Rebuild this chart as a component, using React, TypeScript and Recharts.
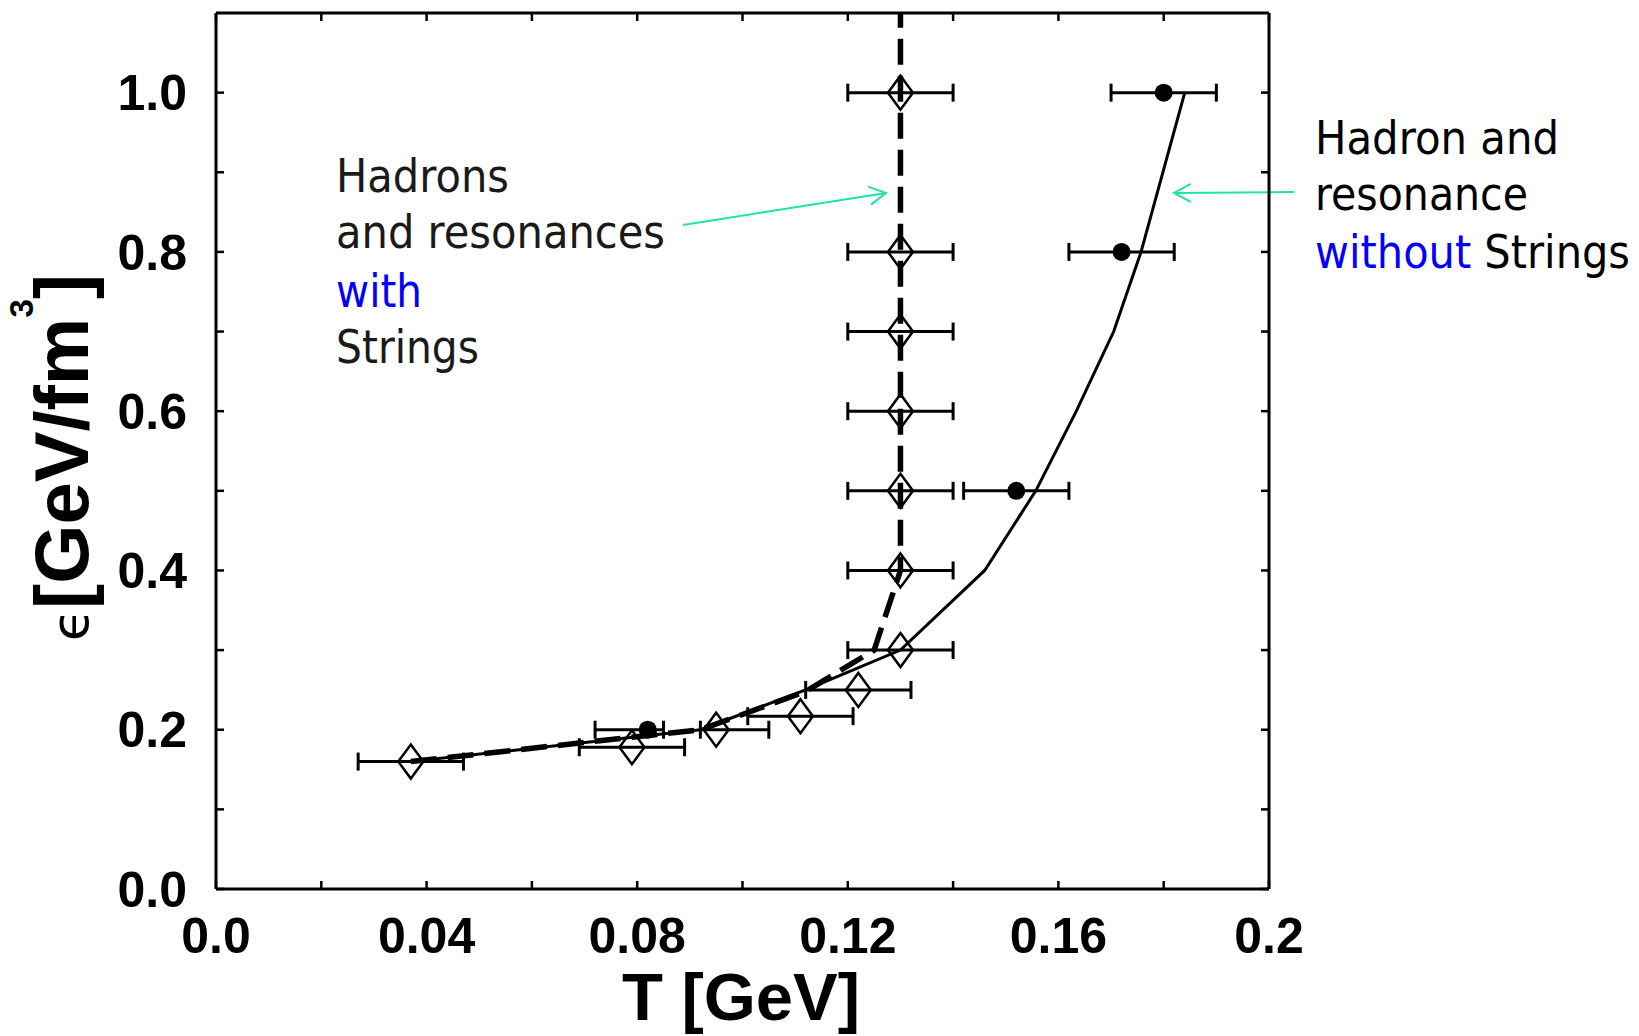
import React from 'react';
import { ComposedChart, Line, Scatter, XAxis, YAxis, ErrorBar, Customized } from 'recharts';

// with strings (open diamonds)
const withT = [0.037, 0.079, 0.095, 0.111, 0.122, 0.13, 0.13, 0.13, 0.13, 0.13, 0.13, 0.13];
const withE = [0.16, 0.178, 0.2, 0.217, 0.25, 0.3, 0.4, 0.5, 0.6, 0.7, 0.8, 1.0];
const withErrLo = [0.01, 0.01, 0.003, 0.01, 0.01, 0.01, 0.01, 0.01, 0.01, 0.01, 0.01, 0.01];
const withErrHi = [0.01, 0.01, 0.01, 0.01, 0.01, 0.01, 0.01, 0.01, 0.01, 0.01, 0.01, 0.01];

// without strings (filled dots)
const noStrT = [0.082, 0.152, 0.172, 0.18];
const noStrE = [0.2, 0.5, 0.8, 1.0];
const noStrErrLo = [0.01, 0.01, 0.01, 0.01];
const noStrErrHi = [0.003, 0.01, 0.01, 0.01];

// curves
const curveWithT = [0.037, 0.092, 0.112, 0.125, 0.13, 0.13];
const curveWithE = [0.16, 0.2, 0.248, 0.3, 0.4, 1.1];
const curveNoT = [0.037, 0.092, 0.112, 0.13, 0.146, 0.1557, 0.1634, 0.1705, 0.1757, 0.184];
const curveNoE = [0.16, 0.2, 0.25, 0.3, 0.4, 0.5, 0.6, 0.7, 0.8, 1.0];

const xTicks = [0, 0.02, 0.04, 0.06, 0.08, 0.1, 0.12, 0.14, 0.16, 0.18, 0.2];
const xTickLabels = ['0.0', '', '0.04', '', '0.08', '', '0.12', '', '0.16', '', '0.2'];
const yTicks = [0, 0.1, 0.2, 0.3, 0.4, 0.5, 0.6, 0.7, 0.8, 0.9, 1.0];
const yTickLabels = ['0.0', '', '0.2', '', '0.4', '', '0.6', '', '0.8', '', '1.0'];

const withData = withT.map((t, i) => ({ t, e: withE[i], err: [withErrLo[i], withErrHi[i]] }));
const noStrData = noStrT.map((t, i) => ({ t, e: noStrE[i], err: [noStrErrLo[i], noStrErrHi[i]] }));
const curveWith = curveWithT.map((t, i) => ({ t, e: curveWithE[i] }));
const curveNo = curveNoT.map((t, i) => ({ t, e: curveNoE[i] }));

const boldFont = 'Liberation Sans, Arial, sans-serif';
const tickFont = { fontFamily: boldFont, fontWeight: 700, fontSize: 50, fill: '#000' };
const noteFont = 'DejaVu Sans, Verdana, sans-serif';
const ARROW = '#20e3a4';
const axisLine = { stroke: '#000', strokeWidth: 3 };
const tickLine = { stroke: '#000', strokeWidth: 2.5 };

const XTick = (props: any) => {
  const { x, y, index } = props;
  const label = xTickLabels[index];
  if (!label) return <g />;
  return (
    <text x={x} y={y} dy="0.71em" textAnchor="middle" {...tickFont}>
      {label}
    </text>
  );
};

const YTick = (props: any) => {
  const { x, y, index } = props;
  const label = yTickLabels[index];
  if (!label) return <g />;
  return (
    <text x={x} y={y} dy="0.355em" textAnchor="end" {...tickFont}>
      {label}
    </text>
  );
};

const NoTick = () => <g />;

const Diamond = (props: any) => {
  const { cx, cy } = props;
  return (
    <path
      d={`M${cx},${cy - 17} L${cx + 12.5},${cy} L${cx},${cy + 17} L${cx - 12.5},${cy} Z`}
      fill="none"
      stroke="#000"
      strokeWidth={2.5}
    />
  );
};

const Dot = (props: any) => <circle cx={props.cx} cy={props.cy} r={9} fill="#000" />;

const Arrow = ({ x1, y1, x2, y2 }: { x1: number; y1: number; x2: number; y2: number }) => {
  const a = Math.atan2(y2 - y1, x2 - x1);
  const len = 19;
  const spread = 0.5;
  const hx1 = x2 - len * Math.cos(a - spread);
  const hy1 = y2 - len * Math.sin(a - spread);
  const hx2 = x2 - len * Math.cos(a + spread);
  const hy2 = y2 - len * Math.sin(a + spread);
  return (
    <g stroke={ARROW} strokeWidth={2} fill="none">
      <line x1={x1} y1={y1} x2={x2} y2={y2} />
      <polyline points={`${hx1},${hy1} ${x2},${y2} ${hx2},${hy2}`} />
    </g>
  );
};

const Annotations = () => (
  <g>
    {/* y axis title */}
    <text transform="translate(80,633) rotate(-90)" fill="#000">
      <tspan fontFamily={noteFont} fontSize={52}>ϵ</tspan>
      <tspan fontFamily={boldFont} fontWeight={700} fontSize={76}>[GeV/fm</tspan>
      <tspan fontFamily={boldFont} fontWeight={700} fontSize={33} dy={-55}>3</tspan>
      <tspan fontFamily={boldFont} fontWeight={700} fontSize={76} dy={55}>]</tspan>
    </text>
    {/* x axis title */}
    <text x={733} y={1012} textAnchor="middle" fontFamily={boldFont} fontWeight={700} fontSize={67} fill="#000">
      T [GeV]
    </text>

    {/* left note */}
    <g fontFamily={noteFont} fontSize={47} fill="#1a1a1a">
      <text x={328} y={184} textLength={173} lengthAdjust="spacingAndGlyphs">Hadrons</text>
      <text x={328} y={240} textLength={329} lengthAdjust="spacingAndGlyphs">and resonances</text>
      <text x={328} y={299} textLength={86} lengthAdjust="spacingAndGlyphs" fill="#0000ff">with</text>
      <text x={328} y={355} textLength={143} lengthAdjust="spacingAndGlyphs">Strings</text>
    </g>
    {/* right note */}
    <g fontFamily={noteFont} fontSize={47} fill="#000">
      <text x={1307} y={146} textLength={244} lengthAdjust="spacingAndGlyphs">Hadron and</text>
      <text x={1307} y={202} textLength={213} lengthAdjust="spacingAndGlyphs">resonance</text>
      <text x={1307} y={260} textLength={315} lengthAdjust="spacingAndGlyphs">
        <tspan fill="#0000ff">without</tspan>
        <tspan> Strings</tspan>
      </text>
    </g>

    <Arrow x1={675} y1={217} x2={878} y2={185} />
    <Arrow x1={1286} y1={184} x2={1166} y2={185} />
  </g>
);

export default function App() {
  return (
    <div style={{ width: 1631, height: 1028 }}>
      <ComposedChart width={1631} height={1028} margin={{ top: 4, right: 369, bottom: 67, left: 108 }}>
        <XAxis
          xAxisId="b"
          type="number"
          dataKey="t"
          domain={[0, 0.2]}
          ticks={xTicks}
          interval={0}
          orientation="bottom"
          height={80}
          tickSize={-8}
          tickMargin={36}
          tick={<XTick />}
          axisLine={axisLine}
          tickLine={tickLine}
        />
        <XAxis
          xAxisId="top"
          type="number"
          dataKey="t"
          domain={[0, 0.2]}
          ticks={xTicks}
          interval={0}
          orientation="top"
          height={1}
          tickSize={-8}
          tick={<NoTick />}
          axisLine={axisLine}
          tickLine={tickLine}
        />
        <YAxis
          yAxisId="l"
          type="number"
          dataKey="e"
          domain={[0, 1.1]}
          ticks={yTicks}
          interval={0}
          orientation="left"
          width={100}
          tickSize={-8}
          tickMargin={37}
          tick={<YTick />}
          axisLine={axisLine}
          tickLine={tickLine}
        />
        <YAxis
          yAxisId="r"
          type="number"
          dataKey="e"
          domain={[0, 1.1]}
          ticks={yTicks}
          interval={0}
          orientation="right"
          width={1}
          tickSize={-8}
          tick={<NoTick />}
          axisLine={axisLine}
          tickLine={tickLine}
        />

        {/* invisible copy so the mirror axes carry data */}
        <Line
          xAxisId="top"
          yAxisId="r"
          data={curveNo}
          dataKey="e"
          stroke="none"
          dot={false}
          activeDot={false}
          isAnimationActive={false}
        />

        <Line
          xAxisId="b"
          yAxisId="l"
          data={curveNo}
          dataKey="e"
          type="linear"
          stroke="#000"
          strokeWidth={3}
          dot={false}
          isAnimationActive={false}
        />
        <Line
          xAxisId="b"
          yAxisId="l"
          data={curveWith}
          dataKey="e"
          type="linear"
          stroke="#000"
          strokeWidth={5.5}
          strokeDasharray="26 11"
          dot={false}
          isAnimationActive={false}
        />

        <Scatter xAxisId="b" yAxisId="l" data={withData} dataKey="e" shape={<Diamond />} isAnimationActive={false}>
          <ErrorBar dataKey="err" direction="x" width={9} stroke="#000" strokeWidth={3} isAnimationActive={false} />
        </Scatter>
        <Scatter xAxisId="b" yAxisId="l" data={noStrData} dataKey="e" shape={<Dot />} isAnimationActive={false}>
          <ErrorBar dataKey="err" direction="x" width={9} stroke="#000" strokeWidth={3} isAnimationActive={false} />
        </Scatter>

        <Customized component={Annotations} />
      </ComposedChart>
    </div>
  );
}
